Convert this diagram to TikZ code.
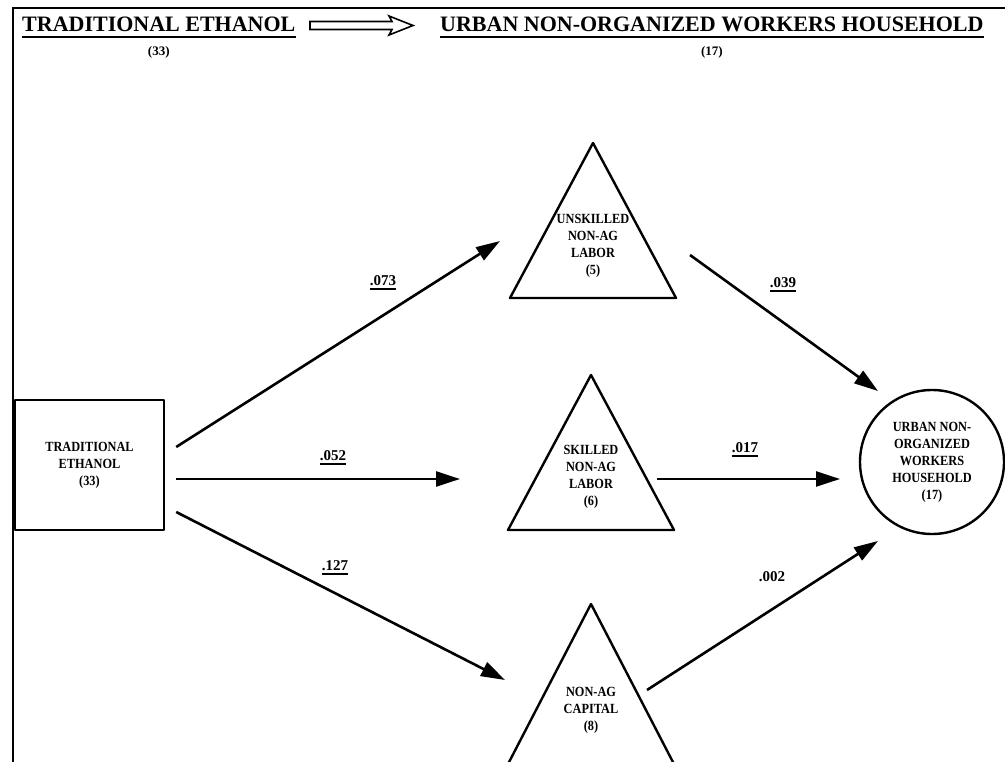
\documentclass[tikz,border=0pt]{standalone}
\usepackage{fontspec}
\setmainfont{Liberation Serif}
\usetikzlibrary{arrows.meta}
\newfontfamily\tnrface{Liberation Serif}
\newfontfamily\tnrnarrow{Liberation Serif}[FakeStretch=0.88]
\newcommand\hdfont{\tnrface\bfseries\fontsize{22}{26}\selectfont}
\newcommand\ctfont{\tnrface\bfseries\fontsize{13}{15}\selectfont}
\newcommand\ndfont{\tnrnarrow\bfseries\fontsize{14}{17}\selectfont}
\newcommand\lbfont{\tnrface\bfseries\fontsize{15}{18}\selectfont}
% number with a heavy rule under it
\newcommand\ulnum[1]{\setbox0\hbox{#1}\rlap{\vrule height -2.5pt depth 4.5pt width \wd0}\box0}

\begin{document}
\begin{tikzpicture}[x=1pt,y=-1pt,
  conn/.style={line width=2.6pt, -{Triangle[length=24pt,width=15pt]}},
  outline/.style={draw, line width=2.4pt, line join=round},
  intext/.style={font=\ndfont, align=center, inner sep=0},
  lbl/.style={font=\lbfont, inner sep=0, anchor=base},
  hd/.style={font=\hdfont, inner sep=0, anchor=base west},
  ct/.style={font=\ctfont, inner sep=0, anchor=base}]
\useasboundingbox (0,0) rectangle (1005,762);

% page frame
\draw[line width=2pt] (13,790) -- (13,8) -- (1030,8);

% headings
\node[hd] (h1) at (22,32) {TRADITIONAL ETHANOL};
\draw[line width=2pt] ([yshift=-5pt]h1.base west) -- ([yshift=-5pt]h1.base east);
\node[ct] (h1n) at ([yshift=-24pt]h1.base) {(33)};
\node[hd] (h2) at (440,32) {URBAN NON-ORGANIZED WORKERS HOUSEHOLD};
\draw[line width=2pt] ([yshift=-5pt]h2.base west) -- ([yshift=-5pt]h2.base east);
\node[ct] (h2n) at ([yshift=-24pt]h2.base) {(17)};

% open double arrow between the headings
\draw[line width=1.6pt, line join=miter]
  (310,21.5) -- (392,21.5) -- (389,16) -- (413,25.5) -- (389,35) -- (392,29.5) -- (310,29.5) -- cycle;

% source account
\node[outline, minimum width=149pt, minimum height=130pt, inner sep=0,
      font=\ndfont, align=center] (te) at (89.5,465) {TRADITIONAL\\ETHANOL\\(33)};

% factor accounts (triangles)
\draw[outline] (593,143) -- (676,298) -- (510,298) -- cycle;
\node[intext] (t1) at (593,246) {UNSKILLED\\NON-AG\\LABOR\\(5)};
\draw[outline] (591,375) -- (674,530) -- (508,530) -- cycle;
\node[intext] (t2) at (591,477) {SKILLED\\NON-AG\\LABOR\\(6)};
\draw[outline] (591,604) -- (675,766) -- (507,766) -- cycle;
\node[intext] (t3) at (591,710) {NON-AG\\CAPITAL\\(8)};

% household account
\node[outline, circle, minimum size=144pt, inner sep=0, font=\ndfont, align=center]
  (hh) at (932,462) {URBAN NON-\\ORGANIZED\\WORKERS\\HOUSEHOLD\\(17)};

% flows
\draw[conn] ([shift={(11,-18)}]te.east) -- ([shift={(-93,-5)}]t1.center);
\draw[conn] ([shift={(11,14)}]te.east) -- ([shift={(-131,2)}]t2.center);
\draw[conn] ([shift={(11,47)}]te.east) -- ([shift={(-86,-30)}]t3.center);
\draw[conn] ([shift={(97,9)}]t1.center) -- ([shift={(-54,-71)}]hh.center);
\draw[conn] ([shift={(66,2)}]t2.center) -- ([shift={(-92,17)}]hh.center);
\draw[conn] ([shift={(56,-20)}]t3.center) -- ([shift={(-54,79)}]hh.center);

% flow coefficients
\node[lbl] (l1) at (383,286) {\ulnum{.073}};
\node[lbl] (l2) at (333,460) {\ulnum{.052}};
\node[lbl] (l3) at (335,570) {\ulnum{.127}};
\node[lbl] (l4) at (783,288) {\ulnum{.039}};
\node[lbl] (l5) at (745,452) {\ulnum{.017}};
\node[lbl] (l6) at (772,581) {.002};
\end{tikzpicture}
\end{document}
